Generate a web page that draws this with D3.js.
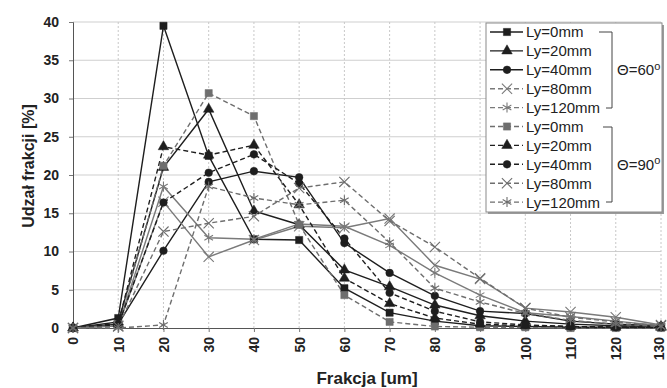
<!DOCTYPE html>
<html>
<head>
<meta charset="utf-8">
<script src="https://cdn.jsdelivr.net/npm/d3@7"></script>
<style>
  body { margin: 0; background: #fff; }
  text { font-family: "Liberation Sans", Arial, sans-serif; }
</style>
</head>
<body>
<div id="chart"></div>
<script>
// fraction classes on the x axis [um]
const fractions = [0, 10, 20, 30, 40, 50, 60, 70, 80, 90, 100, 110, 120, 130];
const yTicks = [0, 5, 10, 15, 20, 25, 30, 35, 40];

// share of fraction [%], theta = 60 deg
const ly0_60   = [0, 1.3, 39.5, 22.5, 11.6, 11.5, 5.2, 2.0, 0.9, 0.3, 0.2, 0.1, 0.1, 0.1];
const ly20_60  = [0, 0.8, 21.0, 28.6, 15.3, 13.5, 7.6, 5.4, 3.0, 1.6, 0.9, 0.5, 0.3, 0.2];
const ly40_60  = [0, 0.5, 10.1, 19.1, 20.5, 19.7, 11.1, 7.2, 4.2, 2.2, 1.9, 0.9, 0.5, 0.3];
const ly80_60  = [0, 0.3, 16.5, 9.3, 11.5, 13.3, 13.1, 14.3, 8.2, 6.4, 2.6, 2.1, 1.4, 0.4];
const ly120_60 = [0, 0.3, 18.5, 11.8, 11.6, 13.6, 13.3, 10.8, 7.2, 4.3, 2.0, 1.5, 0.9, 0.3];

// theta = 90 deg
const ly0_90   = [0, 0.5, 21.2, 30.7, 27.7, 13.5, 4.3, 0.8, 0.2, 0.1, 0.1, 0, 0, 0];
const ly20_90  = [0, 0.6, 23.7, 22.6, 23.9, 16.1, 6.5, 3.2, 1.3, 0.5, 0.3, 0.2, 0.1, 0.1];
const ly40_90  = [0, 0.4, 16.4, 20.3, 22.7, 18.9, 11.7, 4.6, 2.2, 0.8, 0.4, 0.2, 0.1, 0.1];
const ly80_90  = [0, 0.2, 12.6, 13.7, 14.6, 18.3, 19.1, 14.0, 10.6, 6.5, 2.6, 1.4, 0.8, 0.3];
const ly120_90 = [0, 0, 0.4, 18.5, 17.0, 16.1, 16.7, 11.2, 5.2, 3.4, 1.9, 1.0, 0.5, 0.2];

const labels = ['Ly=0mm', 'Ly=20mm', 'Ly=40mm', 'Ly=80mm', 'Ly=120mm'];

// legendDash: how the sample line looks in the legend box
const series = [
  {label: labels[0], values: ly0_60,   sym: 'square',   color: '#1e1e1e', dash: null, legendDash: null},
  {label: labels[1], values: ly20_60,  sym: 'triangle', color: '#1e1e1e', dash: null, legendDash: null},
  {label: labels[2], values: ly40_60,  sym: 'circle',   color: '#1e1e1e', dash: null, legendDash: null},
  {label: labels[3], values: ly80_60,  sym: 'times',    color: '#7a7a7a', dash: null, legendDash: '5,3'},
  {label: labels[4], values: ly120_60, sym: 'asterisk', color: '#7a7a7a', dash: null, legendDash: '5,3'},
  {label: labels[0], values: ly0_90,   sym: 'square',   color: '#6e6e6e', dash: '5,3', legendDash: '5,3'},
  {label: labels[1], values: ly20_90,  sym: 'triangle', color: '#1e1e1e', dash: '5,3', legendDash: '5,3'},
  {label: labels[2], values: ly40_90,  sym: 'circle',   color: '#1e1e1e', dash: '5,3', legendDash: '5,3'},
  {label: labels[3], values: ly80_90,  sym: 'times',    color: '#6e6e6e', dash: '5,3', legendDash: '5,3'},
  {label: labels[4], values: ly120_90, sym: 'asterisk', color: '#6e6e6e', dash: '5,3', legendDash: '5,3'}
];

const width = 667, height = 388;
const margin = {top: 22, right: 6, bottom: 60, left: 73};

const svg = d3.select('#chart').append('svg')
  .attr('width', width)
  .attr('height', height);

const x = d3.scaleLinear().domain([0, 130]).range([margin.left, width - margin.right]);
const y = d3.scaleLinear().domain([0, 40]).range([height - margin.bottom, margin.top]);

// grid
svg.append('g').selectAll('line')
  .data(yTicks.filter(d => d > 0))
  .join('line')
    .attr('x1', x(0)).attr('x2', x(130))
    .attr('y1', d => y(d)).attr('y2', d => y(d))
    .attr('stroke', '#cfcfcf').attr('stroke-width', 1);

svg.append('g').selectAll('line')
  .data(fractions.filter(d => d > 0))
  .join('line')
    .attr('x1', d => x(d)).attr('x2', d => x(d))
    .attr('y1', y(0)).attr('y2', y(40))
    .attr('stroke', '#c8c8c8').attr('stroke-width', 1)
    .attr('stroke-dasharray', '2,2');

// axes
const yAxis = svg.append('g')
  .attr('transform', `translate(${margin.left},0)`)
  .call(d3.axisLeft(y).tickValues(yTicks).tickSize(4).tickPadding(10));
yAxis.select('.domain').attr('stroke', '#555');
yAxis.selectAll('.tick line').attr('stroke', '#777');
yAxis.selectAll('text')
  .attr('font-family', '"Liberation Sans", Arial, sans-serif')
  .attr('font-weight', 'bold').attr('font-size', 14).attr('fill', '#222');

const xAxis = svg.append('g')
  .attr('transform', `translate(0,${height - margin.bottom})`)
  .call(d3.axisBottom(x).tickValues(fractions).tickSize(4));
xAxis.select('.domain').attr('stroke', '#555');
xAxis.selectAll('.tick line').attr('stroke', '#777');
xAxis.selectAll('text')
  .attr('font-family', '"Liberation Sans", Arial, sans-serif')
  .attr('font-weight', 'bold').attr('font-size', 14).attr('fill', '#222')
  .attr('transform', 'rotate(-90)')
  .attr('text-anchor', 'end')
  .attr('x', -9)
  .attr('y', d => d === 130 ? -2 : 0)   // keep the last label inside the frame
  .attr('dy', '0.35em');

// axis titles
svg.append('text')
  .attr('x', (x(0) + x(130)) / 2)
  .attr('y', 384)
  .attr('text-anchor', 'middle')
  .attr('font-family', '"Liberation Sans Narrow", "Liberation Sans", Arial, sans-serif')
  .attr('font-weight', 'bold').attr('font-size', 17).attr('fill', '#222')
  .text('Frakcja  [um]');

svg.append('text')
  .attr('transform', 'translate(34,166) rotate(-90)')
  .attr('text-anchor', 'middle')
  .attr('font-family', '"Liberation Sans Narrow", "Liberation Sans", Arial, sans-serif')
  .attr('font-weight', 'bold').attr('font-size', 16).attr('fill', '#222')
  .text('Udzał frakcji  [%]');

// markers
const symbolType = {
  square: d3.symbolSquare, triangle: d3.symbolTriangle, circle: d3.symbolCircle,
  times: d3.symbolTimes, asterisk: d3.symbolAsterisk
};
const symbolSize = {square: 52, triangle: 48, circle: 46, times: 70, asterisk: 70};

function drawMarker(g, s, cx, cy) {
  const stroked = s.sym === 'times' || s.sym === 'asterisk';
  g.append('path')
    .attr('transform', `translate(${cx},${cy})`)
    .attr('d', d3.symbol(symbolType[s.sym], symbolSize[s.sym])())
    .attr('fill', stroked ? 'none' : s.color)
    .attr('stroke', s.color)
    .attr('stroke-width', stroked ? 1.1 : 0.5);
}

const line = d3.line().x((d, i) => x(fractions[i])).y(d => y(d));

const plot = svg.append('g');
series.forEach(s => {
  plot.append('path')
    .attr('d', line(s.values))
    .attr('fill', 'none')
    .attr('stroke', s.color)
    .attr('stroke-width', 1.4)
    .attr('stroke-dasharray', s.dash);
});
series.forEach(s => {
  const g = plot.append('g');
  s.values.forEach((v, i) => drawMarker(g, s, x(fractions[i]), y(v)));
});

// legend
const lg = svg.append('g');
const lx = 486, ly = 23, lw = 176, lh = 189;
lg.append('rect').attr('x', lx + 2).attr('y', ly + 2).attr('width', lw).attr('height', lh)
  .attr('fill', '#9a9a9a');
lg.append('rect').attr('x', lx).attr('y', ly).attr('width', lw).attr('height', lh)
  .attr('fill', '#fff').attr('stroke', '#8a8a8a').attr('stroke-width', 1);

series.forEach((s, i) => {
  const ry = 32 + i * 18.9;
  lg.append('line')
    .attr('x1', 490).attr('x2', 523).attr('y1', ry).attr('y2', ry)
    .attr('stroke', s.color).attr('stroke-width', 1.4)
    .attr('stroke-dasharray', s.legendDash);
  drawMarker(lg, s, 507, ry);
  lg.append('text')
    .attr('x', 526).attr('y', ry).attr('dy', '0.36em')
    .attr('font-size', 15).attr('fill', '#222')
    .text(s.label);
});

const brackets = [
  {y1: 32, y2: 108, x1: 599, x2: 612, label: 'Θ=60'},
  {y1: 127, y2: 202, x1: 603, x2: 612, label: 'Θ=90'}
];
brackets.forEach(b => {
  lg.append('path')
    .attr('d', `M${b.x1},${b.y1}H${b.x2}V${b.y2}H${b.x2 - 6}`)
    .attr('fill', 'none').attr('stroke', '#444').attr('stroke-width', 1);
  const t = lg.append('text')
    .attr('x', 617).attr('y', (b.y1 + b.y2) / 2).attr('dy', '0.36em')
    .attr('font-size', 15).attr('fill', '#222')
    .text(b.label);
  t.append('tspan').attr('dy', '-0.5em').attr('font-size', 11).text('o');
});
</script>
</body>
</html>
